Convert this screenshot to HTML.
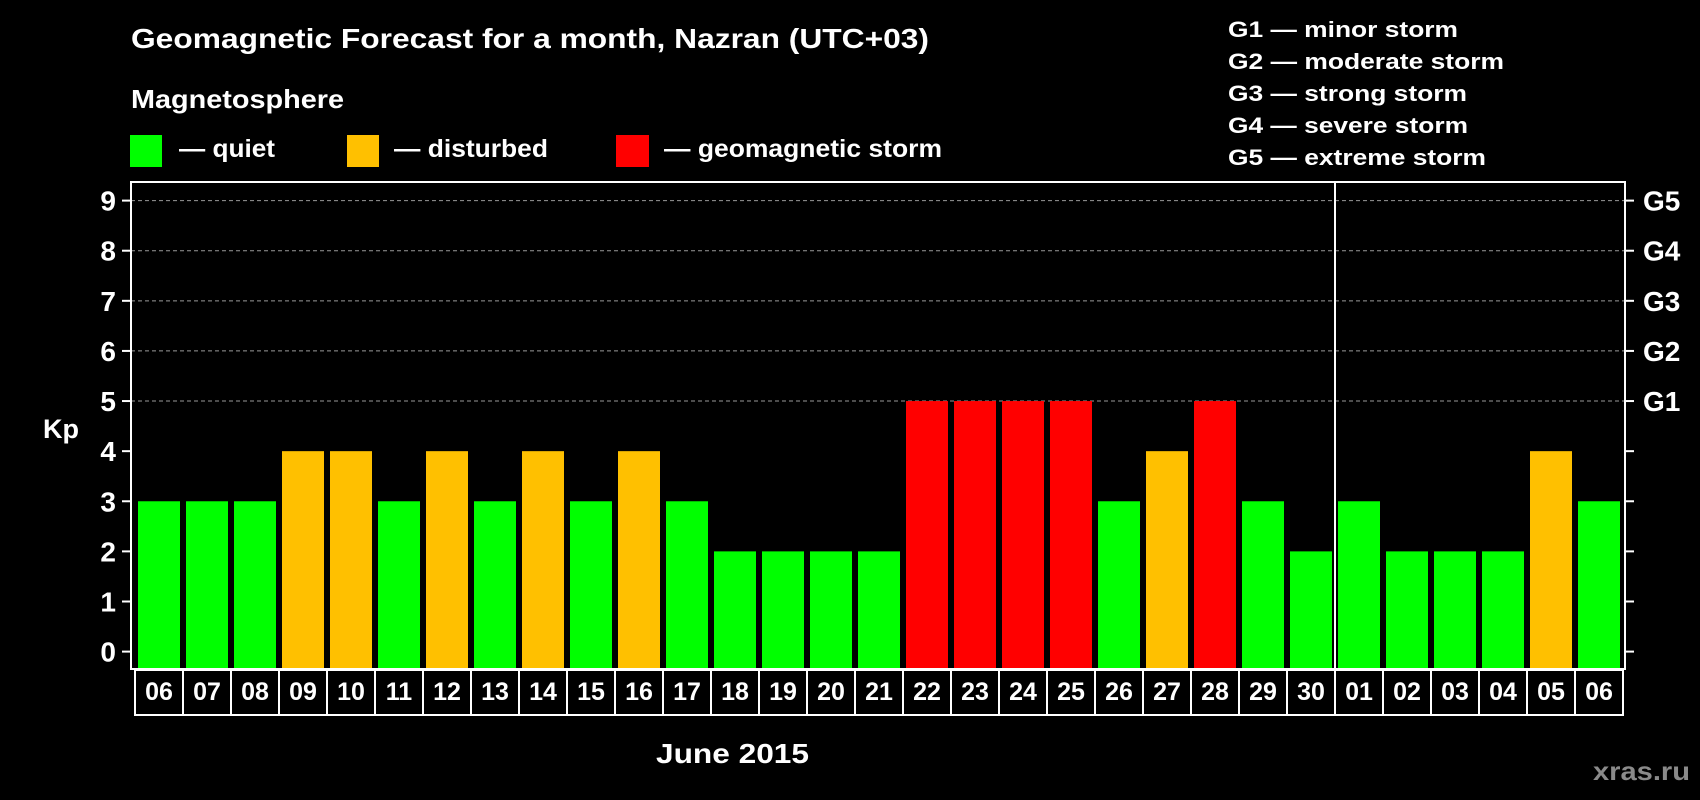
<!DOCTYPE html>
<html><head><meta charset="utf-8"><style>
html,body{margin:0;padding:0;background:#000;}
svg{display:block;}
text{font-family:"Liberation Sans",sans-serif;font-weight:bold;fill:#fff;}
</style></head><body>
<svg id="chart" width="1700" height="800" viewBox="0 0 1700 800" xmlns="http://www.w3.org/2000/svg">
<rect x="0" y="0" width="1700" height="800" fill="#000"/>
<text x="131" y="48" font-size="28" textLength="798" lengthAdjust="spacingAndGlyphs">Geomagnetic Forecast for a month, Nazran (UTC+03)</text>
<text x="131" y="108" font-size="26" textLength="213" lengthAdjust="spacingAndGlyphs">Magnetosphere</text>
<g>
<rect x="130" y="135" width="32" height="32" fill="#00ff00"/>
<text x="179" y="157" font-size="25" textLength="96" lengthAdjust="spacingAndGlyphs">— quiet</text></g>
<g>
<rect x="347" y="135" width="32" height="32" fill="#ffc000"/>
<text x="394" y="157" font-size="25" textLength="154" lengthAdjust="spacingAndGlyphs">— disturbed</text></g>
<g>
<rect x="616" y="135" width="33" height="32" fill="#ff0000"/>
<text x="664" y="157" font-size="25" textLength="278" lengthAdjust="spacingAndGlyphs">— geomagnetic storm</text></g>
<g font-size="22">
<text x="1228" y="37" textLength="230" lengthAdjust="spacingAndGlyphs">G1 — minor storm</text>
<text x="1228" y="69" textLength="276" lengthAdjust="spacingAndGlyphs">G2 — moderate storm</text>
<text x="1228" y="101" textLength="239" lengthAdjust="spacingAndGlyphs">G3 — strong storm</text>
<text x="1228" y="133" textLength="240" lengthAdjust="spacingAndGlyphs">G4 — severe storm</text>
<text x="1228" y="165" textLength="258" lengthAdjust="spacingAndGlyphs">G5 — extreme storm</text>
</g>
<g id="grid"></g>
<g id="bars"></g>
<g id="axes"></g>
<text x="43" y="438" font-size="27">Kp</text>
<text x="656" y="763" font-size="28" textLength="153" lengthAdjust="spacingAndGlyphs">June 2015</text>
<text x="1593" y="780" font-size="26" style="fill:#8a8a8a" textLength="97" lengthAdjust="spacingAndGlyphs">xras.ru</text>
</svg>
<script>
const dayLabels = ["06","07","08","09","10","11","12","13","14","15","16","17","18","19","20","21","22","23","24","25","26","27","28","29","30","01","02","03","04","05","06"];
const kpValues = [3,3,3,4,4,3,4,3,4,3,4,3,2,2,2,2,5,5,5,5,3,4,5,3,2,3,2,2,2,4,3];
const yTicks = [0,1,2,3,4,5,6,7,8,9];
const gLabels = ["","","","","","G1","G2","G3","G4","G5"];
const monthBreakIndex = 25;

const NS = "http://www.w3.org/2000/svg";
const plotL = 131, plotR = 1625, plotT = 182, plotB = 669;
const y0 = 651.6, unit = (651.6 - 200.6) / 9;
const pitch = 48, barX0 = 138, barW = 42;
function yScale(v){ return y0 - v * unit; }
function xScale(i){ return barX0 + i * pitch; }
function mk(tag, attrs, parent){
  const e = document.createElementNS(NS, tag);
  for (const k in attrs) e.setAttribute(k, attrs[k]);
  parent.appendChild(e); return e;
}
function colorFor(v){ return v >= 5 ? "#ff0000" : (v >= 4 ? "#ffc000" : "#00ff00"); }
const grid = document.getElementById("grid");
const bars = document.getElementById("bars");
const axes = document.getElementById("axes");

yTicks.forEach(function(t){
  const y = yScale(t);
  if (t >= 5) {
    const g = mk("line", {x1: plotL, x2: plotR, y1: y, y2: y, stroke: "#999", "stroke-width": 1, "stroke-dasharray": "4 3"}, grid);
    
    
  }
  const tl = mk("line", {x1: plotL - 9, x2: plotL, y1: y, y2: y, stroke: "#fff", "stroke-width": 2}, axes);
  
  
  const tr = mk("line", {x1: plotR, x2: plotR + 9, y1: y, y2: y, stroke: "#fff", "stroke-width": 2}, axes);
  
  
  const lab = mk("text", {x: 116, y: y + 10, "font-size": 28, "text-anchor": "end"}, axes);
  lab.textContent = String(t);
  
  
  if (gLabels[t]) {
    const gl = mk("text", {x: 1643, y: y + 10, "font-size": 28}, axes);
    gl.textContent = gLabels[t];
    
    
  }
});

kpValues.forEach(function(v, i){
  const r = mk("rect", {x: xScale(i), y: yScale(v), width: barW, height: plotB - yScale(v), fill: colorFor(v)}, bars);
  
  
});

const frame = mk("rect", {x: plotL, y: plotT, width: plotR - plotL, height: plotB - plotT, fill: "none", stroke: "#fff", "stroke-width": 2}, axes);


const sepX = xScale(monthBreakIndex) - 3;
const sep = mk("line", {x1: sepX, x2: sepX, y1: plotT, y2: plotB, stroke: "#fff", "stroke-width": 2}, axes);



const boxX0 = 135, boxT = 670, boxB = 715;
dayLabels.forEach(function(d, i){
  const bx = boxX0 + i * pitch;
  const b = mk("rect", {x: bx, y: boxT, width: pitch, height: boxB - boxT, fill: "none", stroke: "#fff", "stroke-width": 2}, axes);
  
  
  const t = mk("text", {x: bx + pitch / 2, y: 700, "font-size": 25, "text-anchor": "middle"}, axes);
  t.textContent = d;
  
  
});
</script>
</body></html>
